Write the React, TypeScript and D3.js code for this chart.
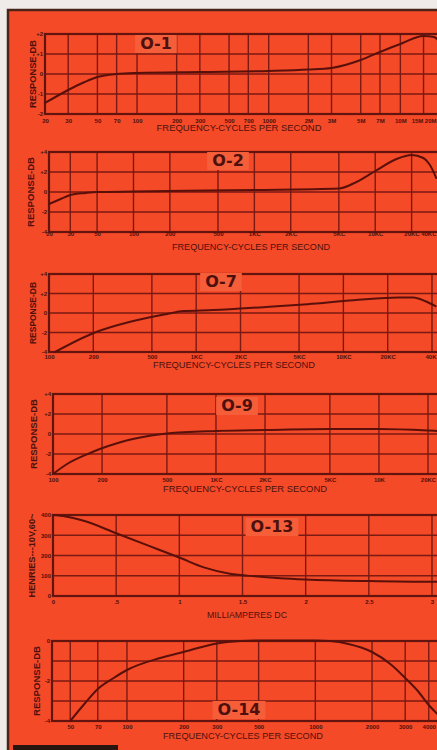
import * as d3 from "d3";
import { useEffect, useRef } from "react";

const W = 437;
const H = 750;

const COLORS = {
  page: "#eeebe8",
  edge: "#4a2418",
  bg: "#f44a28",
  plaque: "#f65e3a",
  grid: "#7a1a12",
  frame: "#64140e",
  curve: "#5a100a",
  text: "#4e100c",
};

// ---- O-1 ----
const o1Freq = [20, 30, 40, 50, 70, 100, 300, 1000, 2000, 3000, 5000, 7000, 10000, 15000, 18000, 20000];
const o1Db = [-1.45, -0.8, -0.4, -0.15, 0, 0.05, 0.1, 0.15, 0.22, 0.3, 0.7, 1.1, 1.5, 1.9, 1.85, 1.6];
const o1XTicks = [20, 30, 50, 70, 100, 200, 300, 500, 700, 1000, 2000, 3000, 5000, 7000, 10000, 15000, 20000];
const o1XLabels = ["20", "30", "50", "70", "100", "200", "300", "500", "700", "1000", "2M", "3M", "5M", "7M", "10M", "15M", "20M"];
const o1YTicks = [2, 1, 0, -1, -2];
const o1YLabels = ["+2", "+1", "0", "-1", "-2"];

// ---- O-2 ----
const o2Freq = [20, 25, 30, 40, 50, 100, 1000, 5000, 7000, 10000, 15000, 20000, 25000, 28000, 32000];
const o2Db = [-1.2, -0.7, -0.3, -0.1, 0, 0.05, 0.2, 0.35, 1.0, 2.1, 3.3, 3.7, 3.4, 2.8, 1.4];
const o2XTicks = [20, 30, 50, 100, 200, 500, 1000, 2000, 5000, 10000, 20000, 40000];
const o2XLabels = ["20", "30", "50", "100", "200", "500", "1KC", "2KC", "5KC", "10KC", "20KC", "40KC"];
const o2YTicks = [4, 2, 0, -2, -4];
const o2YLabels = ["+4", "+2", "0", "-2", "-4"];

// ---- O-7 ----
const o7Freq = [110, 205, 356, 635, 817, 1306, 2860, 5690, 11700, 23700, 29900, 36100, 42300];
const o7Db = [-4, -2, -0.9, -0.1, 0.2, 0.3, 0.6, 0.9, 1.3, 1.6, 1.6, 1.2, 0.7];
const o7XTicks = [100, 200, 500, 1000, 2000, 5000, 10000, 20000, 40000];
const o7XLabels = ["100", "200", "500", "1KC", "2KC", "5KC", "10KC", "20KC", "40K"];
const o7YTicks = [4, 2, 0, -2, -4];
const o7YLabels = ["+4", "+2", "0", "-2", "-4"];

// ---- O-9 ----
const o9Freq = [100, 122, 169, 194, 250, 309, 400, 500, 1000, 2000, 5000, 10000, 20000, 23000];
const o9Db = [-4, -3, -1.9, -1.5, -0.9, -0.5, -0.15, 0.05, 0.3, 0.4, 0.5, 0.5, 0.35, 0.3];
const o9XTicks = [100, 200, 500, 1000, 2000, 5000, 10000, 20000];
const o9XLabels = ["100", "200", "500", "1KC", "2KC", "5KC", "10K", "20KC"];
const o9YTicks = [4, 2, 0, -2, -4];
const o9YLabels = ["+4", "+2", "0", "-2", "-4"];

// ---- O-13 ----
const o13Ma = [0, 0.1, 0.25, 0.5, 0.75, 1.0, 1.2, 1.4, 1.6, 1.8, 2.0, 2.5, 3.0, 3.1];
const o13Henries = [400, 393, 370, 310, 250, 190, 140, 110, 97, 88, 82, 74, 70, 70];
const o13XTicks = [0, 0.5, 1, 1.5, 2, 2.5, 3];
const o13XLabels = ["0", ".5", "1", "1.5", "2", "2.5", "3"];
const o13YTicks = [400, 300, 200, 100, 0];
const o13YLabels = ["400", "300", "200", "100", "0"];

// ---- O-14 ----
const o14Freq = [50, 60, 70, 85, 100, 150, 200, 300, 400, 500, 1000, 1200, 1500, 2000, 2500, 3000, 3500, 4000, 4500];
const o14Db = [-4, -3.1, -2.4, -1.85, -1.45, -0.85, -0.55, -0.12, 0, 0.03, 0.03, 0, -0.15, -0.55, -1.15, -1.85, -2.5, -3.2, -3.7];
const o14XTicks = [50, 70, 100, 200, 300, 500, 1000, 2000, 3000, 4000];
const o14XLabels = ["50", "70", "100", "200", "300", "500", "1000", "2000", "3000", "4000"];
const o14YGrid = [0, -1, -2, -3, -4];
const o14YTicks = [0, -2, -4];
const o14YLabels = ["0", "-2", "-4"];

const FREQ_TITLE = "FREQUENCY-CYCLES PER SECOND";
const FONT = "'Liberation Sans', Arial, sans-serif";

interface Panel {
  name: string;
  log: boolean;
  xs: number[];
  ys: number[];
  xDomain: [number, number];
  xRange: [number, number];
  yDomain: [number, number];
  top: number;
  bottom: number;
  xTicks: number[];
  xLabels: string[];
  yGrid: number[];
  yTicks: number[];
  yLabels: string[];
  yTitle: string;
  yTitleX: number;
  yTitleLen: number;
  xTitle: string;
  xTitleX: number;
  xTitleY: number;
  xTitleLen: number;
  labelGap: number;
  nameX: number;
  nameY: number;
}

const PANELS: Panel[] = [
  {
    name: "O-1", log: true, xs: o1Freq, ys: o1Db,
    xDomain: [20, 20000], xRange: [45, 440], yDomain: [-2, 2], top: 34, bottom: 114,
    xTicks: o1XTicks, xLabels: o1XLabels, yGrid: o1YTicks, yTicks: o1YTicks, yLabels: o1YLabels,
    yTitle: "RESPONSE-DB", yTitleX: 33, yTitleLen: 68,
    xTitle: FREQ_TITLE, xTitleX: 239, xTitleY: 131, xTitleLen: 165, labelGap: 11,
    nameX: 156, nameY: 49,
  },
  {
    name: "O-2", log: true, xs: o2Freq, ys: o2Db,
    xDomain: [20, 40000], xRange: [49, 448], yDomain: [-4, 4], top: 152, bottom: 232,
    xTicks: o2XTicks, xLabels: o2XLabels, yGrid: o2YTicks, yTicks: o2YTicks, yLabels: o2YLabels,
    yTitle: "RESPONSE-DB", yTitleX: 31, yTitleLen: 70,
    xTitle: FREQ_TITLE, xTitleX: 251, xTitleY: 250, xTitleLen: 158, labelGap: 6,
    nameX: 228, nameY: 166,
  },
  {
    name: "O-7", log: true, xs: o7Freq, ys: o7Db,
    xDomain: [100, 40000], xRange: [49, 432], yDomain: [-4, 4], top: 274, bottom: 352,
    xTicks: o7XTicks, xLabels: o7XLabels, yGrid: o7YTicks, yTicks: o7YTicks, yLabels: o7YLabels,
    yTitle: "RESPONSE-DB", yTitleX: 33, yTitleLen: 62,
    xTitle: FREQ_TITLE, xTitleX: 234, xTitleY: 368, xTitleLen: 162, labelGap: 9,
    nameX: 221, nameY: 287,
  },
  {
    name: "O-9", log: true, xs: o9Freq, ys: o9Db,
    xDomain: [100, 20000], xRange: [53, 428], yDomain: [-4, 4], top: 394, bottom: 474,
    xTicks: o9XTicks, xLabels: o9XLabels, yGrid: o9YTicks, yTicks: o9YTicks, yLabels: o9YLabels,
    yTitle: "RESPONSE-DB", yTitleX: 34, yTitleLen: 70,
    xTitle: FREQ_TITLE, xTitleX: 245, xTitleY: 492, xTitleLen: 164, labelGap: 10,
    nameX: 237, nameY: 411,
  },
  {
    name: "O-13", log: false, xs: o13Ma, ys: o13Henries,
    xDomain: [0, 3], xRange: [53, 432], yDomain: [0, 400], top: 515, bottom: 596,
    xTicks: o13XTicks, xLabels: o13XLabels, yGrid: o13YTicks, yTicks: o13YTicks, yLabels: o13YLabels,
    yTitle: "HENRIES---10V,60~", yTitleX: 32, yTitleLen: 84,
    xTitle: "MILLIAMPERES DC", xTitleX: 247, xTitleY: 618, xTitleLen: 80, labelGap: 10,
    nameX: 272, nameY: 532,
  },
  {
    name: "O-14", log: true, xs: o14Freq, ys: o14Db,
    xDomain: [40, 5000], xRange: [52, 447], yDomain: [-4, 0], top: 641, bottom: 721,
    xTicks: o14XTicks, xLabels: o14XLabels, yGrid: o14YGrid, yTicks: o14YTicks, yLabels: o14YLabels,
    yTitle: "RESPONSE-DB", yTitleX: 37, yTitleLen: 70,
    xTitle: FREQ_TITLE, xTitleX: 243, xTitleY: 739, xTitleLen: 160, labelGap: 10,
    nameX: 239, nameY: 715,
  },
];

type Sel = d3.Selection<SVGSVGElement, unknown, null, undefined>;

function drawPanel(svg: Sel, p: Panel) {
  const x = (p.log ? d3.scaleLog() : d3.scaleLinear()).domain(p.xDomain).range(p.xRange);
  const y = d3.scaleLinear().domain(p.yDomain).range([p.bottom, p.top]);
  const left = p.xRange[0];
  const right = W + 6;
  const g = svg.append("g");

  // grid
  g.selectAll("line.h")
    .data(p.yGrid)
    .join("line")
    .attr("x1", left).attr("x2", right)
    .attr("y1", (d) => y(d)).attr("y2", (d) => y(d))
    .attr("stroke", COLORS.grid).attr("stroke-width", 1.4);
  g.selectAll("line.v")
    .data(p.xTicks)
    .join("line")
    .attr("x1", (d) => x(d)).attr("x2", (d) => x(d))
    .attr("y1", p.top).attr("y2", p.bottom)
    .attr("stroke", COLORS.grid).attr("stroke-width", 1.4);

  g.append("rect")
    .attr("x", left).attr("y", p.top)
    .attr("width", right - left).attr("height", p.bottom - p.top)
    .attr("fill", "none").attr("stroke", COLORS.frame).attr("stroke-width", 2.2);

  // curve
  const pts = p.xs.map((v, i) => [v, p.ys[i]] as [number, number]);
  const line = d3.line<[number, number]>()
    .x((d) => x(d[0]))
    .y((d) => y(d[1]))
    .curve(d3.curveMonotoneX);
  g.append("path")
    .attr("d", line(pts))
    .attr("fill", "none")
    .attr("stroke", COLORS.curve)
    .attr("stroke-width", 2)
    .attr("stroke-linecap", "round");

  // x tick labels
  const xa = g.append("g")
    .attr("transform", `translate(0,${p.bottom + p.labelGap - 6})`)
    .call(
      d3.axisBottom(x as any)
        .tickValues(p.xTicks)
        .tickFormat((_, i) => p.xLabels[i])
        .tickSize(0)
        .tickPadding(0)
    )
    .call((a) => a.select(".domain").remove());
  xa.selectAll<SVGTextElement, unknown>("text")
    .attr("fill", COLORS.text)
    .attr("font-size", 6)
    .attr("font-weight", "bold")
    .attr("font-family", FONT);

  // labels at the cut right edge are pushed back inside the page, without overlapping
  const ticks = xa.selectAll<SVGGElement, number>(".tick").nodes().reverse();
  let limit = W - 1;
  for (const node of ticks) {
    const d = d3.select(node).datum() as number;
    const t = d3.select(node).select<SVGTextElement>("text");
    const w = t.node()!.getComputedTextLength();
    const r = x(d) + w / 2;
    const shift = Math.min(0, limit - r);
    if (shift < 0) t.attr("x", shift);
    limit = x(d) + shift - w / 2 - 1.5;
  }

  // y tick labels
  g.append("g")
    .attr("transform", `translate(${left - 2},0)`)
    .call(
      d3.axisLeft(y)
        .tickValues(p.yTicks)
        .tickFormat((_, i) => p.yLabels[i])
        .tickSize(0)
        .tickPadding(0)
    )
    .call((a) => a.select(".domain").remove())
    .call((a) =>
      a.selectAll("text")
        .attr("fill", COLORS.text)
        .attr("font-size", 6)
        .attr("font-weight", "bold")
        .attr("font-family", FONT)
    );

  // axis titles
  g.append("text")
    .attr("x", p.xTitleX).attr("y", p.xTitleY)
    .attr("text-anchor", "middle")
    .attr("textLength", p.xTitleLen)
    .attr("lengthAdjust", "spacingAndGlyphs")
    .attr("fill", COLORS.text)
    .attr("font-size", 8.5)
    .attr("font-family", FONT)
    .text(p.xTitle);

  g.append("text")
    .attr("transform", `translate(${p.yTitleX},${(p.top + p.bottom) / 2}) rotate(-90)`)
    .attr("text-anchor", "middle")
    .attr("dy", "0.35em")
    .attr("textLength", p.yTitleLen)
    .attr("lengthAdjust", "spacingAndGlyphs")
    .attr("fill", COLORS.text)
    .attr("font-size", 8.5)
    .attr("font-weight", "bold")
    .attr("font-family", FONT)
    .text(p.yTitle);

  // panel name plaque
  const plaque = g.append("rect").attr("fill", COLORS.plaque);
  const name = g.append("text")
    .attr("x", p.nameX).attr("y", p.nameY)
    .attr("text-anchor", "middle")
    .attr("fill", COLORS.text)
    .attr("font-size", 16)
    .attr("font-weight", "bold")
    .attr("font-family", "'DejaVu Sans', sans-serif")
    .text(p.name);
  const bb = (name.node() as SVGTextElement).getBBox();
  plaque
    .attr("x", bb.x - 5).attr("y", bb.y + 1)
    .attr("width", bb.width + 10).attr("height", bb.height - 1);
}

export default function App() {
  const svgRef = useRef<SVGSVGElement | null>(null);

  useEffect(() => {
    if (!svgRef.current) return;
    document.body.style.margin = "0";
    const svg = d3.select(svgRef.current);
    svg.selectAll("*").remove();

    // paper and scan edges
    svg.append("rect").attr("width", W).attr("height", H).attr("fill", COLORS.page);
    svg.append("rect")
      .attr("x", 8).attr("y", 10).attr("width", W).attr("height", H)
      .attr("fill", COLORS.bg).attr("stroke", COLORS.edge).attr("stroke-width", 2.5);
    svg.append("rect")
      .attr("x", 13).attr("y", 745).attr("width", 105).attr("height", 6)
      .attr("fill", "#2a1610");

    PANELS.forEach((p) => drawPanel(svg, p));
  }, []);

  return <svg ref={svgRef} width={W} height={H} style={{ display: "block" }} />;
}
